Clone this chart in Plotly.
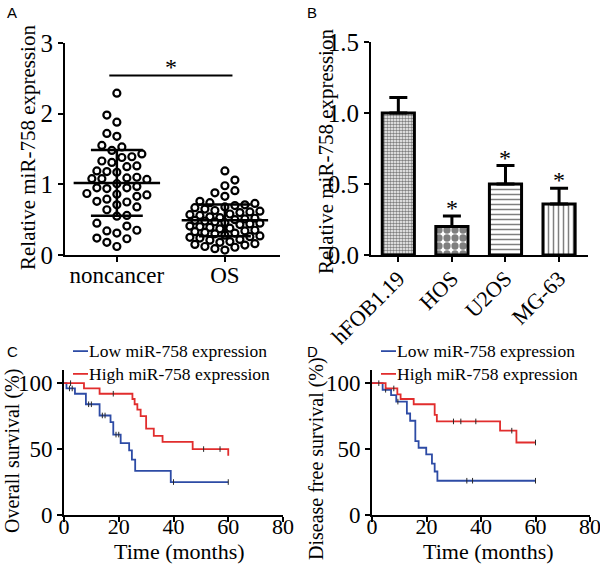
import numpy as np
import plotly.graph_objects as go

# ---------------- Panel A data ----------------
groups_a = ["noncancer", "OS"]
noncancer_vals = [2.29, 1.98, 1.88, 1.72, 1.68, 1.55, 1.53, 1.48, 1.43, 1.39, 1.38, 1.33,
                  1.31, 1.26, 1.25, 1.19, 1.18, 1.17, 1.10, 1.09, 1.08, 1.08, 1.07, 1.01,
                  0.97, 0.95, 0.95, 0.94, 0.87, 0.86, 0.85, 0.83, 0.79, 0.76, 0.75, 0.71,
                  0.68, 0.64, 0.56, 0.55, 0.45, 0.41, 0.35, 0.34, 0.31, 0.24, 0.23, 0.18, 0.12]
os_vals = [1.19, 1.06, 0.98, 0.91, 0.88, 0.83, 0.76, 0.74, 0.73, 0.71, 0.70, 0.68, 0.67,
           0.65, 0.63, 0.62, 0.61, 0.60, 0.58, 0.57, 0.56, 0.54, 0.53, 0.52, 0.51, 0.50,
           0.49, 0.48, 0.47, 0.46, 0.45, 0.44, 0.43, 0.41, 0.40, 0.39, 0.38, 0.37, 0.35,
           0.34, 0.33, 0.32, 0.31, 0.30, 0.28, 0.27, 0.26, 0.25, 0.24, 0.22, 0.21, 0.19,
           0.18, 0.16, 0.15, 0.14, 0.12, 0.11, 0.09, 0.07]
means_a = [1.02, 0.49]
sds_a = [0.465, 0.225]
sig_a_level = 2.54

# ---------------- Panel B data ----------------
cells_b = ["hFOB1.19", "HOS", "U2OS", "MG-63"]
expr_b = [1.00, 0.20, 0.50, 0.36]
err_b = [0.11, 0.075, 0.13, 0.11]
sig_b = ["", "*", "*", "*"]

# ---------------- Panel C data (overall survival) ----------------
c_low_t = [0, 0.9, 4, 8, 13, 17, 18, 20.7, 23.8, 24.8, 26, 39, 60]
c_low_s = [100, 96, 92, 84, 75.5, 70.5, 61, 54.5, 49, 42, 33.5, 25, 25]
c_low_cens = [2, 3, 9, 10, 14, 15, 19, 20, 40, 60]
c_high_t = [0, 7.3, 13, 25, 25.8, 26.8, 28, 30, 32.8, 36, 47, 60]
c_high_s = [100, 96, 92, 88, 84, 80, 75, 65.5, 60, 55.5, 50, 45]
c_high_cens = [2.4, 18, 51, 57]

# ---------------- Panel D data (disease free survival) ----------------
d_low_t = [0, 3.9, 7, 8.9, 12.8, 14, 15.9, 17.1, 19.9, 22, 23, 24, 60]
d_low_s = [100, 95, 91, 86, 77, 71.5, 56, 51, 46, 39, 33, 26, 26]
d_low_cens = [5, 9.5, 34.8, 36.9, 60]
d_high_t = [0, 5, 9.3, 10.5, 15.3, 23, 23.8, 47, 53, 60]
d_high_s = [100, 96, 91.5, 88, 84, 76, 71, 64, 55, 55]
d_high_cens = [2.5, 8, 29.9, 32.6, 38.1, 51.3, 60]

legend_names = ["Low miR-758 expression", "High miR-758 expression"]
BLUE = "rgb(45,75,165)"
RED = "rgb(225,45,45)"
SERIF = "Liberation Serif"
SANS = "Liberation Sans"

W, H = 600, 570

def px(x):
    return x / W

def py(y):
    return 1 - y / H

# domains (paper)
dom = {
    "A": dict(x=[px(65), px(280)], y=[py(255), py(43)]),
    "B": dict(x=[px(371), px(588)], y=[py(255), py(42)]),
    "C": dict(x=[px(64), px(283)], y=[py(515), py(370)]),
    "D": dict(x=[px(372), px(590)], y=[py(515), py(370)]),
}

fig = go.Figure()

# ---------------- Panel A ----------------
xrA = [-0.48, 1.51]
yrA = [0, 3]
PXA = (dom["A"]["x"][1] - dom["A"]["x"][0]) * W / (xrA[1] - xrA[0])
PYA = (dom["A"]["y"][1] - dom["A"]["y"][0]) * H / (yrA[1] - yrA[0])


def swarm(vals, D, step, maxoff):
    vals = np.asarray(vals, dtype=float)
    order = np.argsort(vals)
    res = np.zeros(len(vals))
    placed = []
    cands = [0.0]
    k = 1
    while k * step <= maxoff + 1e-9:
        cands += [k * step, -k * step]
        k += 1
    flip = 1
    for i in order:
        yv = vals[i] * PYA
        best = None
        bestd = -1
        bestc = 0.0
        for c0 in cands:
            c = c0 * flip
            dmin = min([np.hypot(c - a, yv - b) for a, b in placed], default=1e9)
            if dmin >= D:
                best = c
                break
            if dmin > bestd:
                bestd = dmin
                bestc = c
        if best is None:
            best = bestc
        flip = -flip
        placed.append((best, yv))
        res[i] = best / PXA
    return res


for gi, vals in enumerate([noncancer_vals, os_vals]):
    offs = swarm(vals, 10.0, 5.0, 30 if gi == 0 else 38)
    fig.add_trace(go.Scatter(
        x=gi + offs, y=vals, mode="markers", xaxis="x", yaxis="y",
        marker=dict(symbol="circle", size=7, color="white",
                    line=dict(color="black", width=2.2)),
        showlegend=False, cliponaxis=False))

for gi in range(2):
    m, s = means_a[gi], sds_a[gi]
    xs = [gi - 0.4, gi + 0.4, None, gi, gi, None,
          gi - 0.24, gi + 0.24, None, gi - 0.24, gi + 0.24]
    ys = [m, m, None, m - s, m + s, None, m + s, m + s, None, m - s, m - s]
    fig.add_trace(go.Scatter(x=xs, y=ys, mode="lines", xaxis="x", yaxis="y",
                             line=dict(color="black", width=2.5), showlegend=False))

fig.add_trace(go.Scatter(x=[-0.07, 1.07], y=[sig_a_level, sig_a_level], mode="lines",
                         xaxis="x", yaxis="y", line=dict(color="black", width=2),
                         showlegend=False))

# ---------------- Panel B ----------------
patterns = [dict(shape=".", size=3, solidity=0.55),
            dict(shape=".", size=8, solidity=0.65),
            dict(shape="-", size=5, solidity=0.3),
            dict(shape="|", size=5, solidity=0.3)]
for i, cell in enumerate(cells_b):
    p = patterns[i]
    fig.add_trace(go.Bar(
        x=[i], y=[expr_b[i]], width=0.6, xaxis="x2", yaxis="y2",
        marker=dict(color="white", line=dict(color="black", width=3),
                    pattern=dict(shape=p["shape"], size=p["size"], solidity=p["solidity"],
                                 fgcolor="black", bgcolor="white")),
        error_y=dict(type="data", symmetric=False, array=[err_b[i]], arrayminus=[0],
                     thickness=3, width=9, color="black"),
        showlegend=False))

# ---------------- Panels C & D ----------------
def level_at(ts, ss, t):
    idx = 0
    for k, tk in enumerate(ts):
        if tk <= t:
            idx = k
    return ss[idx]

for (xa, ya, curves) in [
    ("x3", "y3", [(c_low_t, c_low_s, c_low_cens, BLUE), (c_high_t, c_high_s, c_high_cens, RED)]),
    ("x4", "y4", [(d_low_t, d_low_s, d_low_cens, BLUE), (d_high_t, d_high_s, d_high_cens, RED)]),
]:
    for ts, ss, cens, col in curves:
        fig.add_trace(go.Scatter(x=ts, y=ss, mode="lines", line_shape="hv",
                                 line=dict(color=col, width=1.8), xaxis=xa, yaxis=ya,
                                 showlegend=False))
        fig.add_trace(go.Scatter(x=cens, y=[level_at(ts, ss, t) for t in cens],
                                 mode="markers", xaxis=xa, yaxis=ya,
                                 marker=dict(symbol="line-ns", size=4,
                                             line=dict(color="rgb(40,40,40)", width=1)),
                                 showlegend=False, cliponaxis=False))

# ---------------- Layout ----------------
def axis_common(lw=2, standoff=0):
    return dict(showline=True, linecolor="black", linewidth=lw, ticks="outside",
                ticklen=5, tickwidth=lw, tickcolor="black", showgrid=False,
                zeroline=False, mirror=False, automargin=False,
                ticklabeloverflow="allow", ticklabelstandoff=standoff)

layout = dict(
    width=W, height=H, margin=dict(l=0, r=0, t=0, b=0, autoexpand=False),
    paper_bgcolor="white", plot_bgcolor="white", showlegend=False,
    font=dict(family=SERIF, color="black"), barmode="overlay",
    xaxis=dict(domain=dom["A"]["x"], anchor="y", range=xrA, tickvals=[0, 1],
               ticktext=groups_a, tickfont=dict(size=23, family=SERIF),
               **axis_common(2, -7)),
    yaxis=dict(domain=dom["A"]["y"], anchor="x", range=yrA, tickvals=[0, 1, 2, 3],
               tickfont=dict(size=25, family=SERIF), **axis_common(2)),
    xaxis2=dict(domain=dom["B"]["x"], anchor="y2", range=[-0.51, 3.54],
                tickvals=list(range(len(cells_b))), ticktext=cells_b, tickangle=-45,
                tickfont=dict(size=22, family=SERIF), **axis_common(2, -5)),
    yaxis2=dict(domain=dom["B"]["y"], anchor="x2", range=[0, 1.5],
                tickvals=[0, 0.5, 1.0, 1.5], tickformat=".1f",
                tickfont=dict(size=25, family=SERIF), **axis_common(2)),
    xaxis3=dict(domain=dom["C"]["x"], anchor="y3", range=[0, 80],
                tickvals=[0, 20, 40, 60, 80], tickfont=dict(size=22, family=SERIF),
                **axis_common(1.8, -14)),
    yaxis3=dict(domain=dom["C"]["y"], anchor="x3", range=[0, 110],
                tickvals=[0, 50, 100], tickfont=dict(size=23, family=SERIF),
                **axis_common(1.8)),
    xaxis4=dict(domain=dom["D"]["x"], anchor="y4", range=[0, 80],
                tickvals=[0, 20, 40, 60, 80], tickfont=dict(size=22, family=SERIF),
                **axis_common(1.8, -14)),
    yaxis4=dict(domain=dom["D"]["y"], anchor="x4", range=[0, 110],
                tickvals=[0, 50, 100], tickfont=dict(size=23, family=SERIF),
                **axis_common(1.8)),
)
fig.update_layout(**layout)

ann = []
# panel letters
for lab, (x, y) in {"A": (5, 13), "B": (305, 13), "C": (5, 351), "D": (305, 351)}.items():
    ann.append(dict(text=lab, x=px(x), y=py(y), xref="paper", yref="paper",
                    xanchor="left", yanchor="middle", showarrow=False,
                    font=dict(family=SANS, size=15, color="black")))
# axis titles
def vtitle(text, x, y, size):
    return dict(text=text, x=px(x), y=py(y), xref="paper", yref="paper",
                xanchor="center", yanchor="middle", textangle=-90, showarrow=False,
                font=dict(family=SERIF, size=size, color="black"))

ann.append(vtitle("Relative miR-758 expression", 28, 148, 21))
ann.append(vtitle("Relative miR-758 expression", 326, 152, 21))
ann.append(vtitle("Overall survival (%)", 12, 451, 20))
ann.append(vtitle("Disease free survival (%)", 317, 459, 20))
for xc in (179, 488):
    ann.append(dict(text="Time (months)", x=px(xc), y=py(551), xref="paper",
                    yref="paper", xanchor="center", yanchor="middle", showarrow=False,
                    font=dict(family=SERIF, size=22, color="black")))
# significance marks
ann.append(dict(text="*", x=0.5, y=sig_a_level, xref="x", yref="y", yanchor="bottom",
                showarrow=False, yshift=-6, font=dict(family=SERIF, size=24, color="black")))
for i in range(len(cells_b)):
    if sig_b[i]:
        ann.append(dict(text=sig_b[i], x=i, y=expr_b[i] + err_b[i], xref="x2", yref="y2",
                        yanchor="bottom", showarrow=False, yshift=-7,
                        font=dict(family=SERIF, size=24, color="black")))
# legends for C and D: one two-line text block each, with coloured line samples
LEG_FONT = 17.5
LEG_CENTER = 362.5
row_gap = LEG_FONT * 1.3
rows_y = [LEG_CENTER - row_gap / 2, LEG_CENTER + row_gap / 2]
shapes = []
for x0, x1 in [(73, 88), (381, 396)]:
    for col, yy in zip([BLUE, RED], rows_y):
        shapes.append(dict(type="line", xref="paper", yref="paper", x0=px(x0), x1=px(x1),
                           y0=py(yy), y1=py(yy), line=dict(color=col, width=1.8)))
    ann.append(dict(text="<br>".join(legend_names), x=px(x1), y=py(LEG_CENTER),
                    xref="paper", yref="paper", xanchor="left", yanchor="middle",
                    align="left", showarrow=False, borderpad=0,
                    font=dict(family=SERIF, size=LEG_FONT, color="black")))

fig.update_layout(annotations=ann, shapes=shapes)
fig.write_html("out.html")
